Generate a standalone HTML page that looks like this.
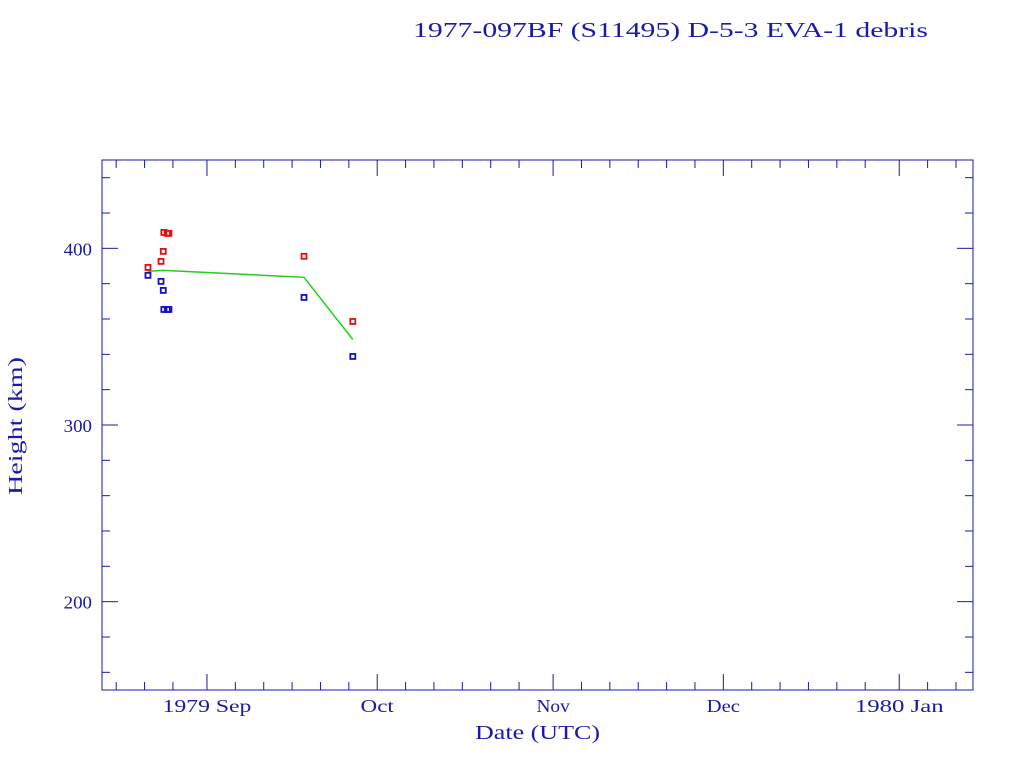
<!DOCTYPE html>
<html><head><meta charset="utf-8"><style>
html,body{margin:0;padding:0;background:#fff;}
svg{display:block;font-family:"Liberation Serif",serif;}
</style></head><body>
<svg id="chart" width="1024" height="768">
<text x="413" y="37" textLength="515" lengthAdjust="spacingAndGlyphs" font-size="21" fill="#1a1aa6">1977-097BF (S11495) D-5-3 EVA-1 debris</text>
<rect x="102" y="160" width="871" height="530" fill="none" stroke="#1a1aa6" stroke-width="1"/>
<g id="ticks"></g>
<g id="labels"></g>
<g id="series"></g>
<text x="475" y="739" textLength="125" lengthAdjust="spacingAndGlyphs" font-size="20" fill="#1a1aa6">Date (UTC)</text>
<text transform="translate(22,495) rotate(-90)" textLength="138" lengthAdjust="spacingAndGlyphs" font-size="20" fill="#1a1aa6">Height (km)</text>
</svg>
<script>
// days relative to 1979 Sep 1
const apogeeDays=[-10.4,-8.1,-7.7,-7.6,-7.0,-6.7,17.1,25.7];
const apogeeKm=[389.2,392.6,398.3,409,408.5,408.5,395.5,358.6];
const perigeeDays=[-10.4,-8.1,-7.7,-7.6,-7.0,-6.7,17.1,25.7];
const perigeeKm=[384.7,381.3,376.2,365.4,365.4,365.4,372.2,338.8];
const meanDays=[-10.4,-7.6,17.1,25.7];
const meanKm=[387,387.5,383.6,348.4];
const yTicks=[200,300,400];
const monthDays=[0,30,61,91,122];
const monthLabels=["1979 Sep","Oct","Nov","Dec","1980 Jan"];

const X0=102,X1=973,Y0=160,Y1=690;
const dMin=-18.5,dMax=135.0,yMin=150,yMax=450;
const xs=d=>X0+(d-dMin)/(dMax-dMin)*(X1-X0);
const ys=v=>Y1-(v-yMin)/(yMax-yMin)*(Y1-Y0);
const NS="http://www.w3.org/2000/svg";
const C="#1a1aa6";
const CW=11.1; // approx char width in reference labels
function mk(tag,attrs,parent){const e=document.createElementNS(NS,tag);for(const k in attrs)e.setAttribute(k,attrs[k]);parent.appendChild(e);return e;}
const tg=document.getElementById('ticks'),lg=document.getElementById('labels'),sg=document.getElementById('series');

for(let v=160;v<=440;v+=20){
  const y=ys(v),L=(v%100===0)?16:8;
  let t=mk('line',{x1:X0,y1:y,x2:X0+L,y2:y,stroke:C},tg);
  
  t=mk('line',{x1:X1,y1:y,x2:X1-L,y2:y,stroke:C},tg);
  
}
yTicks.forEach(v=>{
  const s=String(v);
  const t=mk('text',{x:92-s.length*CW*0.85,y:ys(v)+7,'font-size':18,fill:C,textLength:s.length*CW*0.85,lengthAdjust:'spacingAndGlyphs'},lg);
  t.textContent=s;
  
});
const monthStartsAll=[-31,0,30,61,91,122,153];
for(let m=0;m<monthStartsAll.length-1;m++){
  const s=monthStartsAll[m],e=monthStartsAll[m+1];
  [0,5,10,15,20,25].forEach(o=>{
    const d=s+o; if(d>=e||d<dMin||d>dMax)return;
    const x=xs(d),L=o===0?16:8;
    let t=mk('line',{x1:x,y1:Y1,x2:x,y2:Y1-L,stroke:C},tg);
    
    t=mk('line',{x1:x,y1:Y0,x2:x,y2:Y0+L,stroke:C},tg);
    
  });
}
monthDays.forEach((d,i)=>{
  const s=monthLabels[i],w=s.length*CW;
  const t=mk('text',{x:xs(d)-w/2,y:712,'font-size':18,fill:C,textLength:w,lengthAdjust:'spacingAndGlyphs'},lg);
  t.textContent=s;
  
});
const pl=mk('polyline',{points:meanDays.map((d,i)=>xs(d)+','+ys(meanKm[i])).join(' '),fill:'none',stroke:'#22cc22','stroke-width':1.5},sg);

function pts(ds,vs,col,name){
  ds.forEach((d,i)=>{
    const r=mk('rect',{x:xs(d)-2.5,y:ys(vs[i])-2.5,width:5,height:5,fill:'none',stroke:col,'stroke-width':1.8},sg);
    
  });
}
pts(apogeeDays,apogeeKm,'#dd1111','apogee-point');
pts(perigeeDays,perigeeKm,'#1111cc','perigee-point');
</script>
</body></html>
